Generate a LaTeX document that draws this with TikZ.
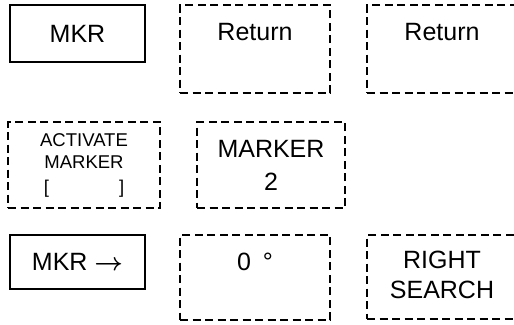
\documentclass[tikz,border=0pt]{standalone}
\usepackage{amsmath}
\usepackage{fontspec}
\setmainfont{Liberation Sans}
\usetikzlibrary{positioning}
\tikzset{
  % Solid key
  SK/.style={rectangle,draw,line width=2.3pt,inner sep=0pt,
             minimum width=135pt,text centered,align=center,
             font=\fontsize{25}{30}\selectfont},
  % Dashed menu key
  MK/.style={rectangle,draw,line width=2.3pt,dash pattern=on 8pt off 4.5pt,
             inner sep=0pt,minimum width=150pt,text centered,align=center,
             font=\fontsize{25}{30}\selectfont},
  % Key texts
  KT/.style={inner sep=0pt,align=center,font=\fontsize{25}{30}\selectfont},
  KS/.style={font=\fontsize{18.5}{22}\selectfont}
}
\begin{document}
\begin{tikzpicture}[x=1pt,y=-1pt]
  \useasboundingbox (0,0) rectangle (514,324);
  % top row
  \node[SK,minimum height=57pt] (mkr)  at (77.5,33.5) {MKR};
  \node[MK,minimum height=88pt] (ret1) at (255,49) {};
  \node[MK,minimum height=88pt] (ret2) at (442,49) {};
  \node[KT,below=19.5pt of ret1.north] (ret1t) {Return};
  \node[KT,below=19.5pt of ret2.north] (ret2t) {Return};
  % middle row
  \node[MK,KS,minimum width=152pt,minimum height=86pt] (act) at (84,165)
       {ACTIVATE\\MARKER\\[3pt][\hspace{70pt}]};
  \node[MK,minimum width=148pt,minimum height=86pt] (mk2) at (271,165)
       {MARKER\\[3pt]2};
  % bottom row
  \node[SK,minimum height=54pt] (mkrr) at (77.5,262) {MKR $\boldsymbol{\rightarrow}$};
  \node[MK,minimum height=85pt] (zero) at (255,277.5) {};
  \node[MK,minimum height=84pt] (rsch) at (442,277) {};
  \node[KT,below=19pt of zero.north] (zerot) {0\hspace{12pt}°};
  \node[KT,below=17pt of rsch.north] (rscht) {RIGHT\\SEARCH};
\end{tikzpicture}
\end{document}
